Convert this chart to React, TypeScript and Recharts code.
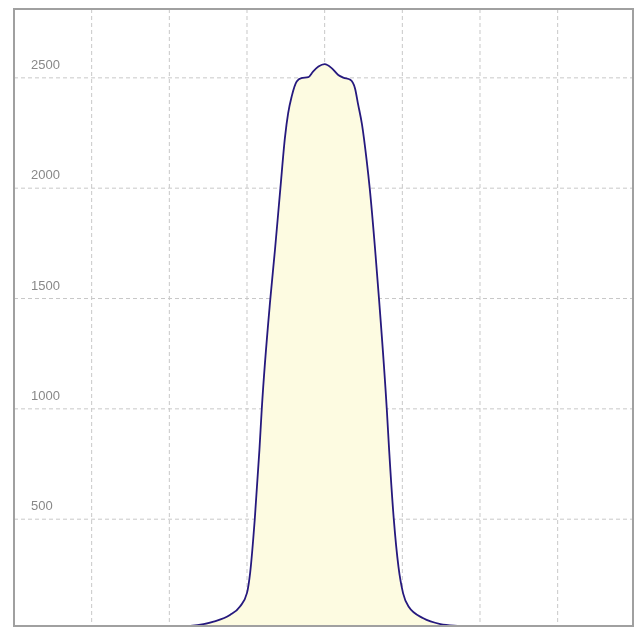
import { AreaChart, Area, XAxis, YAxis, CartesianGrid, ReferenceArea } from "recharts";

// x positions (grid units) and curve values
const xs = [
  1.5, 2.27, 2.57, 2.78, 2.91, 3.0, 3.04, 3.1, 3.16, 3.19, 3.3, 3.36, 3.43, 3.49, 3.53,
  3.575, 3.64, 3.7, 3.79, 3.85, 3.92, 4.0, 4.09, 4.175, 4.24, 4.33, 4.39, 4.43, 4.48,
  4.54, 4.58, 4.65, 4.7, 4.8, 4.83, 4.89, 4.95, 5.01, 5.08, 5.27, 5.49, 5.74, 6.5,
];
const values = [
  0, 16, 36, 66, 104, 166, 256, 500, 814, 998, 1497, 1720, 2000, 2234, 2340,
  2415, 2483, 2499, 2503, 2528, 2551, 2562, 2544, 2513, 2501, 2491, 2453, 2381, 2290,
  2128, 2000, 1720, 1497, 998, 814, 500, 285, 164, 104, 51, 25, 16, 0,
];
const yTicks = [500, 1000, 1500, 2000, 2500];
const xTicks = [1, 2, 3, 4, 5, 6, 7];

const data = xs.map((x, i) => ({ x, v: values[i] }));

const X_MIN = 0;
const X_MAX = 7.97;
const Y_MIN = 16;
const Y_MAX = 2812;

const renderYTick = (props: any) => (
  <text
    x={31}
    y={props.y - 9}
    fill="#888"
    fontSize={13}
    fontFamily="'Liberation Sans', Arial, sans-serif"
    textAnchor="start"
  >
    {props.payload.value}
  </text>
);

const renderNoTick = () => <g />;

export default function App() {
  return (
    <div style={{ position: "fixed", left: 0, top: 0 }}>
      <AreaChart
        width={636}
        height={627}
        data={data}
        margin={{ top: 9, right: 3, bottom: 1, left: 13 }}
      >
        <CartesianGrid stroke="#c8c8c8" strokeDasharray="4 3" />
        <XAxis
          dataKey="x"
          type="number"
          domain={[X_MIN, X_MAX]}
          ticks={xTicks}
          interval={0}
          allowDataOverflow
          height={0}
          tick={renderNoTick}
          tickLine={false}
          axisLine={false}
        />
        <YAxis
          type="number"
          domain={[Y_MIN, Y_MAX]}
          ticks={yTicks}
          interval={0}
          allowDataOverflow
          width={1}
          tickLine={false}
          axisLine={false}
          tick={renderYTick}
        />
        <Area
          type="monotone"
          dataKey="v"
          stroke="#26197e"
          strokeWidth={1.8}
          fill="#fdfbe1"
          fillOpacity={1}
          isAnimationActive={false}
          dot={false}
          activeDot={false}
        />
        <ReferenceArea
          x1={X_MIN}
          x2={X_MAX}
          y1={Y_MIN}
          y2={Y_MAX}
          fill="none"
          stroke="#a0a0a0"
          strokeWidth={2}
        />
      </AreaChart>
    </div>
  );
}
